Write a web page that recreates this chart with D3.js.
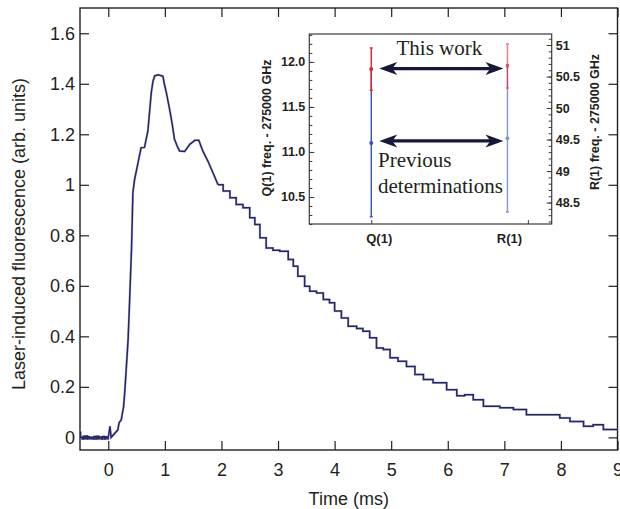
<!DOCTYPE html>
<html>
<head>
<meta charset="utf-8">
<script src="https://cdn.jsdelivr.net/npm/d3@7"></script>
<style>
  body { margin: 0; background: #fff; }
  svg { display: block; }
  text { font-family: "Liberation Sans", Arial, sans-serif; fill: #231f20; }
</style>
</head>
<body>
<svg id="chart" width="620" height="509"></svg>
<script>
// ---------------- Data ----------------
const timeMs = [
  -0.50, -0.49, -0.46, -0.44, -0.42, -0.40, -0.37, -0.36, -0.33, -0.30, -0.27, -0.25, -0.22, -0.20,
  -0.17, -0.15, -0.12, -0.10, -0.07, -0.05, -0.02, 0.00,
  0.03, 0.05, 0.17, 0.19, 0.23, 0.25, 0.27, 0.29, 0.32, 0.35, 0.38, 0.41, 0.435, 0.465,
  0.52, 0.58, 0.64, 0.70, 0.73, 0.76, 0.79, 0.82, 0.88, 0.965, 0.99, 1.026, 1.084, 1.13,
  1.17, 1.23, 1.26, 1.35, 1.44, 1.53, 1.60, 1.67, 1.76, 1.85, 1.94, 2.03, 2.15, 2.26,
  2.38, 2.50, 2.59, 2.68, 2.79, 2.91, 3.03, 3.18, 3.27, 3.35, 3.47, 3.56, 3.68, 3.80,
  3.91, 4.00, 4.12, 4.24, 4.39, 4.50, 4.62, 4.74, 4.86, 4.98, 5.12, 5.27, 5.42, 5.57,
  5.74, 5.98, 6.16, 6.30, 6.45, 6.63, 6.92, 7.16, 7.39, 7.69, 7.98, 8.16, 8.40, 8.57,
  8.75, 9.00
];
const fluorescence = [
  0.020, 0.000, -0.006, 0.004, -0.005, 0.005, -0.006, 0.002, -0.005, 0.000, -0.006, 0.003, -0.006, 0.004,
  -0.005, 0.001, -0.006, 0.003, -0.006, 0.002, -0.005, 0.000,
  0.044, 0.000, 0.030, 0.058, 0.070, 0.097, 0.120, 0.177, 0.280, 0.387, 0.560, 0.743, 0.969, 1.021,
  1.081, 1.147, 1.148, 1.213, 1.290, 1.365, 1.410, 1.431, 1.436, 1.430, 1.400, 1.365, 1.299, 1.240,
  1.180, 1.147, 1.134, 1.132, 1.160, 1.176, 1.176, 1.134, 1.094, 1.048, 1.000, 0.975, 0.949, 0.922,
  0.909, 0.870, 0.843, 0.790, 0.750, 0.741, 0.737, 0.704, 0.678, 0.638, 0.598, 0.579, 0.572, 0.546,
  0.533, 0.500, 0.473, 0.440, 0.431, 0.420, 0.394, 0.354, 0.348, 0.315, 0.301, 0.281, 0.249, 0.229,
  0.216, 0.189, 0.165, 0.169, 0.149, 0.123, 0.117, 0.110, 0.090, 0.090, 0.077, 0.063, 0.044, 0.050,
  0.031, 0.031
];
const xTicks = [0, 1, 2, 3, 4, 5, 6, 7, 8, 9];
const yTicks = [0, 0.2, 0.4, 0.6, 0.8, 1, 1.2, 1.4, 1.6];
const yTickLabels = ["0", "0.2", "0.4", "0.6", "0.8", "1", "1.2", "1.4", "1.6"];

// Inset data
const insetCategories = ["Q(1)", "R(1)"];
const thisWorkValues = [11.92, 50.667];   // Q(1) on left scale, R(1) on right scale
const thisWorkErrors = [0.235, 0.35];
const previousValues = [11.10, 49.52];
const previousErrors = [0.82, 1.17];
const qTicks = [10.5, 11.0, 11.5, 12.0];
const qTickLabels = ["10.5", "11.0", "11.5", "12.0"];
const rTicks = [48.5, 49, 49.5, 50, 50.5, 51];
const rTickLabels = ["48.5", "49", "49.5", "50", "50.5", "51"];

// ---------------- Main chart ----------------
const svg = d3.select("#chart");
const X0 = 80, X1 = 617.5, Y0 = 8, Y1 = 450;
const x = d3.scaleLinear().domain([-0.5, 9]).range([X0, X1]);
const y = d3.scaleLinear().domain([-0.05, 1.7]).range([Y1, Y0]);
const ink = "#231f20";

function styleAxis(g) {
  g.select(".domain").remove();
  g.selectAll(".tick line").attr("stroke", ink).attr("stroke-width", 1.2);
  g.selectAll(".tick text").style("font-size", "18px").attr("fill", ink);
}

svg.append("g").attr("transform", `translate(0,${Y1})`)
  .call(d3.axisBottom(x).tickValues(xTicks).tickFormat(d3.format("d")).tickSize(-9).tickPadding(13))
  .call(styleAxis);
svg.append("g").attr("transform", `translate(0,${Y0})`)
  .call(d3.axisTop(x).tickValues(xTicks).tickFormat("").tickSize(-9))
  .call(styleAxis);
svg.append("g").attr("transform", `translate(${X0},0)`)
  .call(d3.axisLeft(y).tickValues(yTicks).tickFormat((d, i) => yTickLabels[i]).tickSize(-9).tickPadding(5))
  .call(styleAxis);
svg.append("g").attr("transform", `translate(${X1},0)`)
  .call(d3.axisRight(y).tickValues(yTicks).tickFormat("").tickSize(-9))
  .call(styleAxis);

svg.append("rect").attr("x", X0).attr("y", Y0).attr("width", X1 - X0).attr("height", Y1 - Y0)
  .attr("fill", "none").attr("stroke", ink).attr("stroke-width", 1.4);

// trace
const pts = timeMs.map((t, i) => [t, fluorescence[i]]);
const splitT = 1.94;
const lineLin = d3.line().x(d => x(d[0])).y(d => y(d[1])).curve(d3.curveLinear);
const lineStep = d3.line().x(d => x(d[0])).y(d => y(d[1])).curve(d3.curveStepAfter);
const traceColor = "#24246c";
[[lineStep, pts.filter(d => d[0] <= 0.0)], [lineLin, pts.filter(d => d[0] >= 0.0 && d[0] <= splitT)], [lineStep, pts.filter(d => d[0] >= splitT)]].forEach(([gen, data]) => {
  svg.append("path").datum(data).attr("d", gen)
    .attr("fill", "none").attr("stroke", "#8a8ab8").attr("stroke-width", 2.4).attr("stroke-opacity", 0.5);
  svg.append("path").datum(data).attr("d", gen)
    .attr("fill", "none").attr("stroke", traceColor).attr("stroke-width", 1.5);
});

// axis titles
svg.append("text").attr("x", (X0 + X1) / 2).attr("y", 505).attr("text-anchor", "middle")
  .style("font-size", "18px").text("Time (ms)");
svg.append("text").attr("transform", `translate(25,${(Y0 + Y1) / 2 + 5}) rotate(-90)`)
  .attr("text-anchor", "middle").style("font-size", "18px")
  .text("Laser-induced fluorescence (arb. units)");

// ---------------- Inset ----------------
const IX0 = 309.3, IX1 = 551.7, IY0 = 34, IY1 = 224;
const xI = d3.scaleLinear().domain([-0.455, 1.325]).range([IX0, IX1]);
const yQ = d3.scaleLinear().domain([10.2, 12.31]).range([IY1, IY0]);
const yR = d3.scaleLinear().domain([48.16, 51.175]).range([IY1, IY0]);
const inset = svg.append("g");
inset.append("rect").attr("x", IX0).attr("y", IY0).attr("width", IX1 - IX0).attr("height", IY1 - IY0)
  .attr("fill", "#fff").attr("stroke", "#3a3a3a").attr("stroke-width", 1.2);

function styleInsetAxis(g) {
  g.select(".domain").remove();
  g.selectAll(".tick line").attr("stroke", "#3a3a3a").attr("stroke-width", 1);
  g.selectAll(".tick text").style("font-size", "12.5px").style("font-weight", "bold").attr("fill", ink);
}
inset.append("g").attr("transform", `translate(${IX0},0)`)
  .call(d3.axisLeft(yQ).tickValues(qTicks).tickFormat((d, i) => qTickLabels[i]).tickSize(-5).tickPadding(4))
  .call(styleInsetAxis);
inset.append("g").attr("transform", `translate(${IX0},0)`)
  .call(d3.axisLeft(yQ).ticks(20).tickFormat("").tickSize(-3))
  .call(styleInsetAxis);
inset.append("g").attr("transform", `translate(${IX1},0)`)
  .call(d3.axisRight(yR).tickValues(rTicks).tickFormat((d, i) => rTickLabels[i]).tickSize(-5).tickPadding(4))
  .call(styleInsetAxis);
inset.append("g").attr("transform", `translate(${IX1},0)`)
  .call(d3.axisRight(yR).ticks(30).tickFormat("").tickSize(-3))
  .call(styleInsetAxis);
inset.append("g").attr("transform", `translate(0,${IY1})`)
  .call(d3.axisBottom(xI).tickValues([0, 1.15]).tickFormat("").tickSize(-4))
  .call(styleInsetAxis);

// category labels
const catOffset = [8, 2];
insetCategories.forEach((c, i) => {
  inset.append("text").attr("x", xI(i) + catOffset[i]).attr("y", 243).attr("text-anchor", "middle")
    .style("font-size", "13px").style("font-weight", "bold").text(c);
});

// inset axis titles
inset.append("text").attr("transform", "translate(271,128) rotate(-90)").attr("text-anchor", "middle")
  .style("font-size", "12.5px").style("font-weight", "bold").text("Q(1) freq. - 275000 GHz");
inset.append("text").attr("transform", "translate(599,122) rotate(-90)").attr("text-anchor", "middle")
  .style("font-size", "12.5px").style("font-weight", "bold").text("R(1) freq. - 275000 GHz");

// error bars
const yScales = [yQ, yR];
const opac = [1, 0.6];
function errBar(i, v, e, color) {
  const ys = yScales[i], cx = xI(i);
  const g = inset.append("g").attr("opacity", opac[i]);
  g.append("line").attr("x1", cx).attr("x2", cx).attr("y1", ys(v - e)).attr("y2", ys(v + e))
    .attr("stroke", color).attr("stroke-width", 1.4);
  [v - e, v + e].forEach(w => g.append("line").attr("x1", cx - 1.5).attr("x2", cx + 1.5)
    .attr("y1", ys(w)).attr("y2", ys(w)).attr("stroke", color).attr("stroke-width", 1.4));
  g.append("circle").attr("cx", cx).attr("cy", ys(v)).attr("r", 2).attr("fill", color);
}
previousValues.forEach((v, i) => errBar(i, v, previousErrors[i], "#3552b8"));
thisWorkValues.forEach((v, i) => errBar(i, v, thisWorkErrors[i], "#e3202a"));

// double arrows
const arrowColor = "#17173a";
function dblArrow(yy) {
  const xa = xI(0) + 8, xb = xI(1) - 4, L = 18, W = 6.5, notch = 13;
  inset.append("line").attr("x1", xa + 10).attr("x2", xb - 10).attr("y1", yy).attr("y2", yy)
    .attr("stroke", arrowColor).attr("stroke-width", 3.2);
  inset.append("path").attr("d", `M${xa},${yy} L${xa + L},${yy - W} L${xa + notch},${yy} L${xa + L},${yy + W} Z`)
    .attr("fill", arrowColor);
  inset.append("path").attr("d", `M${xb},${yy} L${xb - L},${yy - W} L${xb - notch},${yy} L${xb - L},${yy + W} Z`)
    .attr("fill", arrowColor);
}
dblArrow(yQ(thisWorkValues[0]) - 0.5);
dblArrow(yQ(previousValues[0]) - 2);

const serif = '"Liberation Serif", "Times New Roman", serif';
inset.append("text").attr("x", 396.5).attr("y", 55).style("font-family", serif).style("font-size", "21px").text("This work");
inset.append("text").attr("x", 378).attr("y", 167).style("font-family", serif).style("font-size", "21px").text("Previous");
inset.append("text").attr("x", 378).attr("y", 193).style("font-family", serif).style("font-size", "21px").text("determinations");
</script>
</body>
</html>
